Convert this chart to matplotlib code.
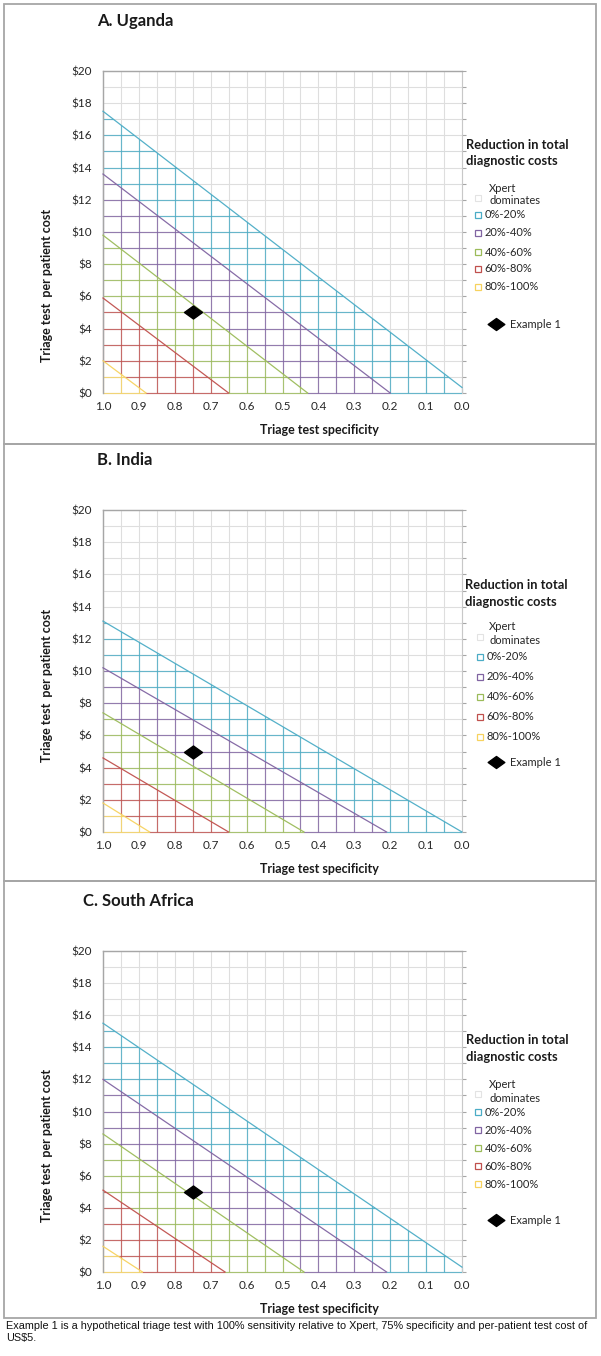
import numpy as np
import matplotlib
matplotlib.use("Agg")
import matplotlib.pyplot as plt
from matplotlib.patches import Polygon, Rectangle
from matplotlib.lines import Line2D
from matplotlib.path import Path
from matplotlib.ticker import MultipleLocator, FixedLocator

# ---------------- data ----------------
countries = ["A. Uganda", "B. India", "C. South Africa"]
bands = ["0%-20%", "20%-40%", "40%-60%", "60%-80%", "80%-100%"]
band_colors = ["#4bacc6", "#8064a2", "#9bbb59", "#c0504d", "#f7d25e"]
# threshold lines (0%, 20%, 40%, 60%, 80% cost reduction):
# per-patient cost at specificity 1.0 and the specificity where cost reaches $0
cost_at_spec1_uganda = [17.5, 13.6, 9.8, 5.9, 2.0]
zero_spec_uganda = [-0.02, 0.20, 0.43, 0.65, 0.88]
cost_at_spec1_india = [13.1, 10.2, 7.4, 4.6, 1.8]
zero_spec_india = [0.0, 0.21, 0.44, 0.65, 0.87]
cost_at_spec1_sa = [15.5, 12.0, 8.6, 5.1, 1.6]
zero_spec_sa = [-0.02, 0.21, 0.44, 0.66, 0.89]
example_spec = 0.75
example_cost = 5.0
x_ticks = [1.0, 0.9, 0.8, 0.7, 0.6, 0.5, 0.4, 0.3, 0.2, 0.1, 0.0]
y_ticks = [0, 2, 4, 6, 8, 10, 12, 14, 16, 18, 20]
y_tick_labels = ["$" + str(v) for v in y_ticks]
caption = ("Example 1 is a hypothetical triage test with 100% sensitivity relative to Xpert, "
           "75% specificity and per-patient test cost of\nUS$5.")

lines_data = [
    (cost_at_spec1_uganda, zero_spec_uganda),
    (cost_at_spec1_india, zero_spec_india),
    (cost_at_spec1_sa, zero_spec_sa),
]

# ---------------- layout ----------------
W, H = 601, 1356
fig = plt.figure(figsize=(W / 100, H / 100), dpi=100)
FONT = ["Lato", "DejaVu Sans"]
GRID = "#dedede"
TXT = "#262626"
DIAMOND = Path([(-1, 0), (0, 0.72), (1, 0), (0, -0.72), (-1, 0)],
               [Path.MOVETO, Path.LINETO, Path.LINETO, Path.LINETO, Path.CLOSEPOLY])


def fx(x):
    return x / W


def fy(y):
    return 1 - y / H


# panel boxes (top, bottom) in pixels
panels = [(4, 444), (444, 881), (881, 1318)]
for top, bot in panels:
    fig.patches.append(Rectangle((fx(4), fy(bot)), fx(596) - fx(4), fy(top) - fy(bot),
                                 transform=fig.transFigure, fill=False,
                                 edgecolor="#a6a6a6", lw=1.3))

axes_px = [(71, 393), (510, 832), (951, 1272)]
title_px = [(97, 21), (97, 460), (83, 901)]
ylabel_cy = [285, 685, 1145]
legend_layout = [
    dict(title=(466, 145, 161), xp=(489, 188, 201), sq=475, items=[215, 233, 252, 269, 287], ex=324),
    dict(title=(465, 585, 602), xp=(489, 627, 641), sq=477, items=[657, 677, 697, 717, 737], ex=762),
    dict(title=(466, 1040, 1057), xp=(489, 1084, 1098), sq=475, items=[1112, 1130, 1148, 1166, 1184], ex=1220),
]

xs_grid = np.round(np.arange(0, 1.0001, 0.05), 2)
ys_grid = np.arange(0, 21, 1)

for p in range(3):
    top, bot = axes_px[p]
    ax = fig.add_axes([fx(103), fy(bot), fx(462) - fx(103), fy(top) - fy(bot)])
    ax.set_xlim(1.0, 0.0)
    ax.set_ylim(0, 20)
    c1, z0 = lines_data[p]

    # gray background grid
    ax.vlines(xs_grid, 0, 20, colors=GRID, lw=0.8, clip_on=False, zorder=1)
    ax.hlines(ys_grid, 0, 1, colors=GRID, lw=0.8, clip_on=False, zorder=1)

    xx = np.linspace(-0.03, 1.03, 600)

    def line_f(i):
        return c1[i] * (xx - z0[i]) / (1.0 - z0[i])

    for i in range(len(bands)):
        up = line_f(i)
        up = np.where(up > 0, up, -0.3)
        if i + 1 < len(bands):
            lo = line_f(i + 1)
            lo = np.where(lo > 0, lo, -0.3)
        else:
            lo = np.full_like(xx, -0.3)
        verts = np.concatenate([np.column_stack([xx, up]), np.column_stack([xx[::-1], lo[::-1]])])
        poly = Polygon(verts, closed=True, transform=ax.transData, facecolor="none", edgecolor="none")
        ax.add_patch(poly)
        for coll in (ax.vlines(xs_grid, 0, 20, colors=band_colors[i], lw=0.85, alpha=0.8, zorder=2),
                     ax.hlines(ys_grid, 0, 1, colors=band_colors[i], lw=0.85, alpha=0.8, zorder=2)):
            coll.set_clip_path(poly)
            coll.set_clip_box(None)

        # threshold line
        xend = max(z0[i], 0.0)
        lx = np.array([1.0, xend])
        ly = c1[i] * (lx - z0[i]) / (1.0 - z0[i])
        ax.plot(lx, ly, color=band_colors[i], lw=0.9, alpha=0.95, zorder=3, clip_on=False)

    ax.plot([example_spec], [example_cost], marker=DIAMOND, color="black", ms=13, zorder=5, ls="none")

    # axes styling
    for s in ("top", "left"):
        ax.spines[s].set_color("#a6a6a6")
        ax.spines[s].set_linewidth(1.0)
    ax.spines["right"].set_color("#c8c8c8")
    ax.spines["right"].set_linewidth(0.8)
    ax.spines["bottom"].set_visible(False)
    ax.xaxis.set_major_locator(FixedLocator(x_ticks))
    ax.set_xticklabels(["%.1f" % v for v in x_ticks])
    ax.yaxis.set_major_locator(FixedLocator(y_ticks))
    ax.set_yticklabels(y_tick_labels)
    ax.yaxis.set_minor_locator(MultipleLocator(1))
    ax.tick_params(axis="x", length=0, pad=6, labelsize=8.5, labelcolor=TXT)
    ax.tick_params(axis="y", which="both", left=False, right=True, direction="out",
                   length=3, color="#a6a6a6", width=0.8, labelsize=8.5, labelcolor=TXT, pad=5)
    for lab in ax.get_xticklabels() + ax.get_yticklabels():
        lab.set_family(FONT)

    # titles and labels
    tx, ty = title_px[p]
    fig.text(fx(tx), fy(ty), countries[p], family=FONT, fontsize=12, weight="bold",
             color="#1a1a1a", ha="left", va="center")
    fig.text(fx(319), fy(bot + 37), "Triage test specificity", family=FONT, fontsize=9,
             weight="bold", color="#1a1a1a", ha="center", va="center")
    fig.text(fx(47), fy(ylabel_cy[p]), "Triage test  per patient cost", family=FONT, fontsize=9,
             weight="bold", color="#1a1a1a", ha="center", va="center", rotation=90)

    # legend
    L = legend_layout[p]
    lt = L["title"]
    fig.text(fx(lt[0]), fy(lt[1]), "Reduction in total", family=FONT, fontsize=9.3,
             weight="bold", color="#1a1a1a", ha="left", va="center")
    fig.text(fx(lt[0]), fy(lt[2]), "diagnostic costs", family=FONT, fontsize=9.3,
             weight="bold", color="#1a1a1a", ha="left", va="center")
    xp = L["xp"]
    fig.text(fx(xp[0]), fy(xp[1]), "Xpert", family=FONT, fontsize=8, color=TXT, ha="left", va="center")
    fig.text(fx(xp[0]), fy(xp[2]), "dominates", family=FONT, fontsize=8, color=TXT, ha="left", va="center")
    sq = 6
    fig.patches.append(Rectangle((fx(L["sq"]), fy((xp[1] + xp[2]) / 2 + 3 + sq / 2)), sq / W, sq / H,
                                 transform=fig.transFigure, fill=False, edgecolor="#e3e3e3", lw=0.8))
    for i, yy in enumerate(L["items"]):
        fig.patches.append(Rectangle((fx(L["sq"]), fy(yy + sq / 2)), sq / W, sq / H,
                                     transform=fig.transFigure, fill=False,
                                     edgecolor=band_colors[i], lw=0.9))
        fig.text(fx(L["sq"] + 9.5), fy(yy), bands[i], family=FONT, fontsize=8, color=TXT,
                 ha="left", va="center")
    fig.lines.append(Line2D([fx(496)], [fy(L["ex"])], marker=DIAMOND, color="black", ms=12,
                            transform=fig.transFigure))
    fig.text(fx(510), fy(L["ex"]), "Example 1", family=FONT, fontsize=8, color=TXT,
             ha="left", va="center")

fig.text(fx(6), fy(1321), caption, family=["Liberation Sans", "DejaVu Sans"], fontsize=7.85,
         color="#111111", ha="left", va="top", linespacing=1.25)

fig.savefig("out.png", dpi=100)
